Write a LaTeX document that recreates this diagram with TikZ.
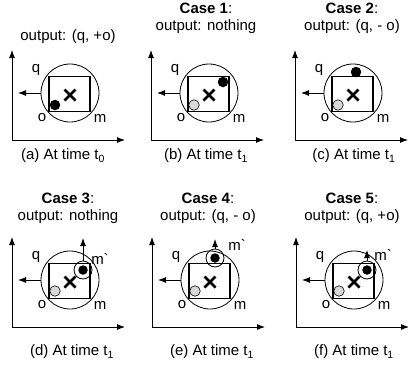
\documentclass[tikz,border=0pt]{standalone}
\usepackage{fontspec}
\setmainfont{Liberation Sans}
\usetikzlibrary{arrows.meta}

\tikzset{
  axisline/.style={-{Latex[length=8pt,width=6pt]}, line width=0.9pt},
  movearrow/.style={-{Latex[length=8pt,width=6pt]}, line width=0.9pt},
  rangecirc/.style={circle, draw, line width=0.8pt, minimum size=58pt, inner sep=0pt},
  cellbox/.style={draw, line width=1.1pt, minimum width=41pt, minimum height=35pt, inner sep=0pt},
  crossmark/.style={line width=2.5pt},
  newpos/.style={circle, fill=black, minimum size=10.5pt, inner sep=0pt},
  newdot/.style={circle, fill=black, minimum size=9.5pt, inner sep=0pt},
  oldpos/.style={circle, draw, fill=gray!30, line width=0.6pt, minimum size=10.5pt, inner sep=0pt},
  zonecirc/.style={circle, draw, line width=0.8pt, minimum size=18pt, inner sep=0pt},
  lbl/.style={font=\fontsize{15}{17}\selectfont, inner sep=0pt},
}

% axes, range circle, cell, centre cross and query arrow of one panel
\newcommand{\panelbase}[3]{%
  \coordinate (#1o) at (#2,#3);
  \coordinate (#1y) at (#2,#3-90);
  \coordinate (#1x) at (#2+113,#3);
  \draw[axisline] (#1o) -- (#1y);
  \draw[axisline] (#1o) -- (#1x);
  \node[rangecirc] (#1c) at (#2+58,#3-47) {};
  \node[cellbox] (#1r) at (#2+57.5,#3-46) {};
  \coordinate (#1k) at (#2+58,#3-45);
  \draw[crossmark] (#1k) ++(-5.5,-5.5) -- ++(11,11) (#1k) ++(-5.5,5.5) -- ++(11,-11);
  \coordinate (#1l) at (#2+6,#3-47);
  \draw[movearrow] (#1c.west) -- (#1l);
  \node[lbl] (#1q) at (#2+24,#3-70) {q};
  \node[lbl] (#1oo) at (#2+30,#3-22) {o};
  \node[lbl] (#1m) at (#2+88,#3-22) {m};
}

\begin{document}
\begin{tikzpicture}[x=1pt,y=-1pt]
\useasboundingbox (0,0) rectangle (408,365);

% (a)
\panelbase{a}{12}{140}
\node[lbl] (at) at (68,37) {output: (q, +o)};
\node[newpos] (ad) at (55,105) {};
\node[lbl] (acap) at (63,156) {(a) At time t\textsubscript{0}};

% (b)
\panelbase{b}{151}{140}
\node[lbl] (bh) at (206,8) {\textbf{Case 1}:};
\node[lbl] (bt) at (206,27) {output: nothing};
\node[oldpos] (bg) at (194,105) {};
\node[newpos] (bd) at (223,82) {};
\node[lbl] (bcap) at (206,156) {(b) At time t\textsubscript{1}};

% (c)
\panelbase{c}{295}{140}
\node[lbl] (ch) at (352,8) {\textbf{Case 2}:};
\node[lbl] (ct) at (352,27) {output: (q, - o)};
\node[oldpos] (cg) at (338,105) {};
\node[newpos] (cd) at (356,72) {};
\node[lbl] (ccap) at (354,156) {(c) At time t\textsubscript{1}};

% (d)
\panelbase{d}{12}{327}
\node[lbl] (dh) at (68,198) {\textbf{Case 3}:};
\node[lbl] (dt) at (68,217) {output: nothing};
\node[oldpos] (dg) at (55,291) {};
\node[zonecirc] (dz) at (83,270) {};
\node[newdot] (dd) at (83,270) {};
\coordinate (du) at (83,238);
\draw[movearrow] (dz.north) -- (du);
\node[lbl] (dn) at (100,259) {m\textasciigrave};
\node[lbl] (dcap) at (72,352) {(d) At time t\textsubscript{1}};

% (e)
\panelbase{e}{152}{327}
\node[lbl] (eh) at (208,198) {\textbf{Case 4}:};
\node[lbl] (et) at (208,217) {output: (q, - o)};
\node[oldpos] (eg) at (195,291) {};
\node[zonecirc] (ez) at (215,258) {};
\node[newdot] (ed) at (215,258) {};
\coordinate (eu) at (215,239);
\draw[movearrow] (ez.north) -- (eu);
\node[lbl] (en) at (237,245) {m\textasciigrave};
\node[lbl] (ecap) at (212,352) {(e) At time t\textsubscript{1}};

% (f)
\panelbase{f}{296}{327}
\node[lbl] (fh) at (352,198) {\textbf{Case 5}:};
\node[lbl] (ft) at (352,217) {output: (q, +o)};
\node[oldpos] (fg) at (339,291) {};
\node[zonecirc] (fz) at (367,270) {};
\node[newdot] (fd) at (367,270) {};
\coordinate (fu) at (367,250);
\draw[movearrow] (fz.north) -- (fu);
\node[lbl] (fn) at (383,255) {m\textasciigrave};
\node[lbl] (fcap) at (354,352) {(f) At time t\textsubscript{1}};
\end{tikzpicture}
\end{document}
